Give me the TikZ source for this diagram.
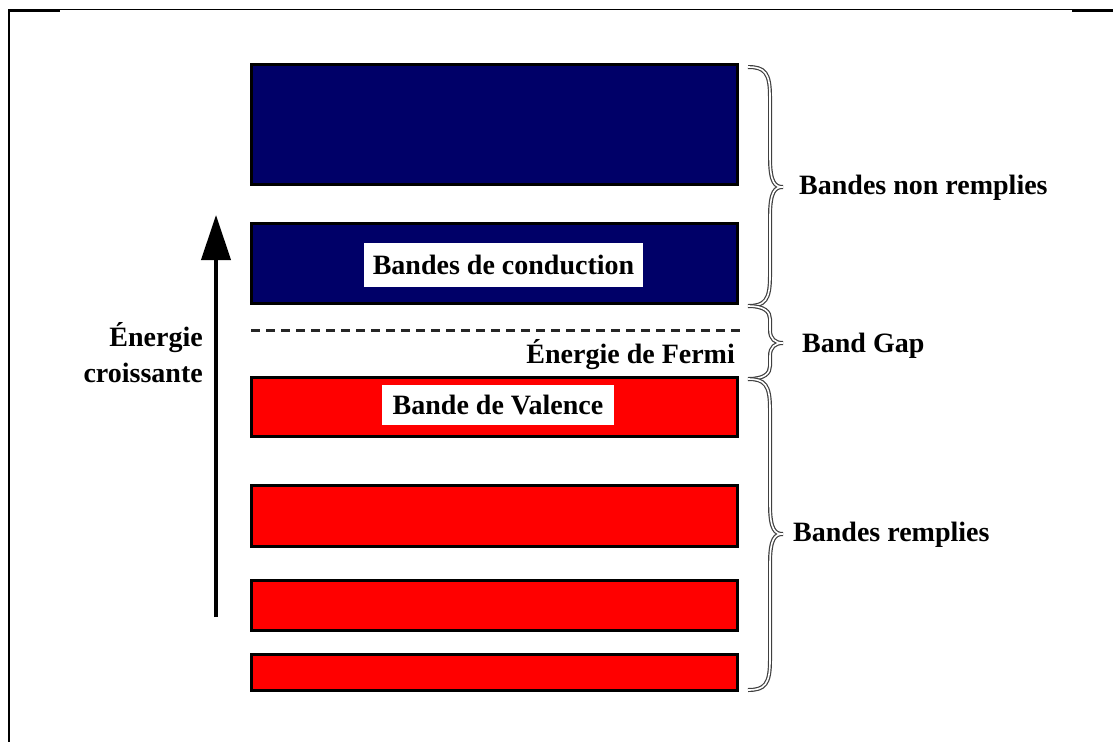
\documentclass[tikz,border=0pt]{standalone}
\usepackage{fontspec}
\setmainfont{Liberation Serif}
\usetikzlibrary{arrows.meta}

% curly brace on the right of the bands: top y, tip y, bottom y, curl length
\newcommand\curlybrace[4]{%
  \draw[bracestyle] (748,#1)
    .. controls (765,#1) and (770,{#1+6}) .. (770,{#1+#4})
    -- (770,{#2-#4})
    .. controls (770,{#2-4}) and (775,#2) .. (783,#2)
    .. controls (775,#2) and (770,{#2+4}) .. (770,{#2+#4})
    -- (770,{#3-#4})
    .. controls (770,{#3-6}) and (765,#3) .. (748,#3);}

\begin{document}
\begin{tikzpicture}[x=1pt,y=-1pt,
  band/.style={draw=black, line width=3pt, fill=#1, minimum width=486pt,
               inner sep=0pt, outer sep=0pt},
  boxtext/.style={fill=white, inner sep=0pt,
                  font=\fontsize{28}{32}\selectfont\bfseries},
  sidetext/.style={anchor=west, inner sep=0pt,
                   font=\fontsize{28}{32}\selectfont\bfseries},
  axistext/.style={anchor=base east, inner sep=0pt,
                   font=\fontsize{28}{32}\selectfont\bfseries},
  bracestyle/.style={draw=black!75, double=white, line width=1.2pt,
                     double distance=1.6pt}]

\useasboundingbox (0,0) rectangle (1113,742);

% page frame fragments
\draw[line width=1pt] (8,9.5) -- (1113,9.5);
\draw[line width=2pt] (8,10.5) -- (60,10.5);
\draw[line width=2pt] (1072,10.5) -- (1113,10.5);
\draw[line width=2pt] (8.5,9) -- (8.5,742);

\definecolor{bandblue}{RGB}{0,0,104}
\definecolor{bandred}{RGB}{255,0,0}

% conduction bands
\node[band=bandblue, minimum height=120pt] (cb1) at (494.5,124.5) {};
\node[band=bandblue, minimum height=80pt]  (cb2) at (494.5,263.5) {};
% valence and filled bands
\node[band=bandred, minimum height=59pt] (vb1) at (494.5,407) {};
\node[band=bandred, minimum height=61pt] (vb2) at (494.5,515.5) {};
\node[band=bandred, minimum height=50pt] (vb3) at (494.5,605) {};
\node[band=bandred, minimum height=36pt] (vb4) at (494.5,672) {};

% band names on white boxes
\node[boxtext, minimum width=279pt, minimum height=44pt] (cbname) at (503.5,265) {Bandes de conduction};
\node[boxtext, minimum width=232pt, minimum height=40pt] (vbname) at (498,405) {Bande de Valence};

% Fermi level
\coordinate (fermiL) at (251,330);
\coordinate (fermiR) at (745,330);
\draw[line width=3pt, black!85, dash pattern=on 9pt off 6pt] (fermiL) -- (fermiR);
\node[boxtext, fill=none, anchor=east] (fermi) at (735,355) {Énergie de Fermi};

% energy axis
\coordinate (arrowfoot) at (216,617);
\coordinate (arrowtip) at (216,215);
\draw[line width=4pt, -{Triangle[length=45pt,width=29pt]}] (arrowfoot) -- (arrowtip);
\node[axistext] (axis1) at (203,346) {Énergie};
\node[axistext] (axis2) at (203,382) {croissante};

% braces and their captions
\curlybrace{67}{187}{306}{30}
\curlybrace{306}{343}{379}{13}
\curlybrace{379}{534}{690}{30}
\node[sidetext] (empty) at (799,188) {Bandes non remplies};
\node[sidetext] (gap) at (802,346) {Band Gap};
\node[sidetext] (full) at (793,535) {Bandes remplies};

\end{tikzpicture}
\end{document}
